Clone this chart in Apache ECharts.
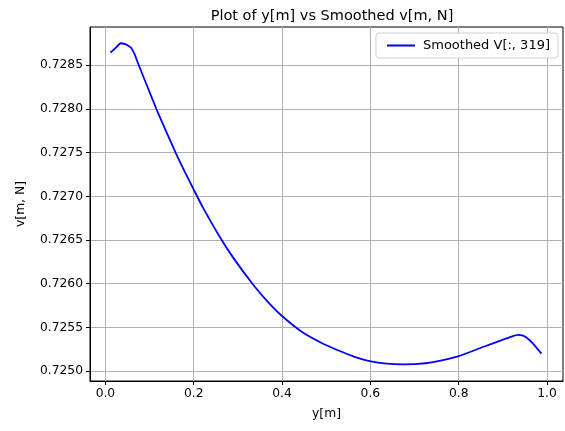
<!DOCTYPE html>
<html>
<head>
<meta charset="utf-8">
<script src="https://cdn.jsdelivr.net/npm/echarts@6/dist/echarts.min.js"></script>
<style>
  html, body { margin: 0; padding: 0; background: #fff; }
  #main { width: 565px; height: 431px; }
</style>
</head>
<body>
<div id="main"></div>
<script>
// y[m] positions and smoothed v values
var yPos = [0.0113, 0.0233, 0.0346, 0.0437, 0.0516, 0.0589, 0.0663, 0.0738, 0.0947, 0.1155,
            0.1372, 0.1592, 0.1796, 0.2006, 0.221, 0.2588, 0.2889, 0.3342, 0.372, 0.3999,
            0.4438, 0.4853, 0.5306, 0.5645, 0.6008, 0.637, 0.6739, 0.7072, 0.7418, 0.7985,
            0.855, 0.9004, 0.9198, 0.9343, 0.9438, 0.9533, 0.9683, 0.9873];
var vSmooth = [0.728644, 0.7287, 0.728752, 0.728744, 0.728723, 0.728695, 0.728624, 0.728523, 0.72826, 0.727999,
               0.727747, 0.727498, 0.727283, 0.727071, 0.726871, 0.726537, 0.726301, 0.725991, 0.725768, 0.72563,
               0.725453, 0.725333, 0.725229, 0.725163, 0.725111, 0.725086, 0.725077, 0.725081, 0.725103, 0.725168,
               0.725275, 0.72536, 0.725394, 0.725413, 0.725407, 0.725383, 0.725314, 0.725199];
var xTicks = [0.0, 0.2, 0.4, 0.6, 0.8, 1.0];
var yTicks = [0.7250, 0.7255, 0.7260, 0.7265, 0.7270, 0.7275, 0.7280, 0.7285];
var seriesName = 'Smoothed V[:, 319]';

var myChart = echarts.init(document.getElementById('main'));
var pts = yPos.map(function (x, i) { return [x, vSmooth[i]]; });
var font = 'DejaVu Sans';

var option = {
    backgroundColor: '#fff',
    animation: false,
    title: {
        text: 'Plot of y[m] vs Smoothed v[m, N]',
        left: 327, top: 4, textAlign: 'center',
        textStyle: { fontFamily: font, fontSize: 14.5, fontWeight: 'normal', color: '#000' }
    },
    legend: {
        right: 7, top: 33,
        padding: [6, 8, 6, 11],
        itemWidth: 28, itemHeight: 2, icon: 'rect', itemGap: 10,
        borderColor: '#d0d0d0', borderWidth: 1, borderRadius: 3,
        backgroundColor: '#fff',
        textStyle: { fontFamily: font, fontSize: 13, color: '#000', padding: [0, 0, 0, 3] },
        data: [seriesName]
    },
    grid: {
        left: 90, right: 2, top: 27, bottom: 50,
        show: true, borderColor: '#000', borderWidth: 1
    },
    xAxis: {
        type: 'value', min: -0.0349, max: 1.0362,
        name: 'y[m]', nameLocation: 'middle', nameGap: 27,
        nameTextStyle: { fontFamily: font, fontSize: 12.3, color: '#000' },
        axisLine: { show: true, onZero: false, lineStyle: { color: '#000', width: 1 } },
        axisTick: { show: true, length: 4, customValues: xTicks, lineStyle: { color: '#000' } },
        axisLabel: { customValues: xTicks, margin: 7, fontFamily: font, fontSize: 12.3, color: '#000',
            formatter: function (v) { return v.toFixed(1); } },
        splitLine: { show: true, lineStyle: { color: '#b0b0b0', width: 1 } }
    },
    yAxis: {
        type: 'value', min: 0.724886, max: 0.728938,
        name: 'v[m, N]', nameLocation: 'middle', nameGap: 63,
        nameTextStyle: { fontFamily: font, fontSize: 12.3, color: '#000' },
        axisLine: { show: true, onZero: false, lineStyle: { color: '#000', width: 1 } },
        axisTick: { show: true, length: 4, customValues: yTicks, lineStyle: { color: '#000' } },
        axisLabel: { customValues: yTicks, margin: 7, fontFamily: font, fontSize: 12.3, color: '#000',
            formatter: function (v) { return v.toFixed(4); } },
        splitLine: { show: true, lineStyle: { color: '#b0b0b0', width: 1 } }
    },
    series: [{
        name: seriesName,
        type: 'line',
        data: pts,
        symbol: 'none',
        smooth: 0.2,
        lineStyle: { color: '#0000ff', width: 1.8 },
        itemStyle: { color: '#0000ff' }
    }]
};
myChart.setOption(option);
</script>
</body>
</html>
